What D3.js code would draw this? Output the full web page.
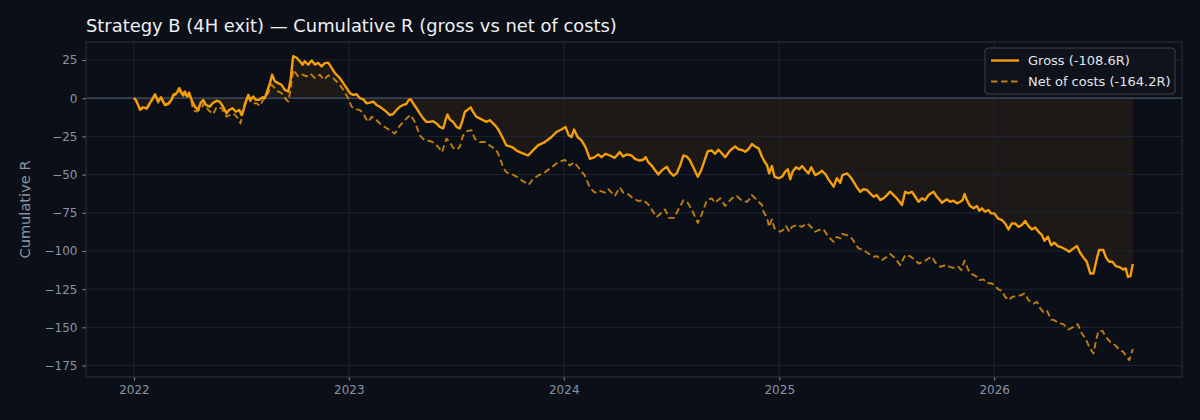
<!DOCTYPE html>
<html>
<head>
<meta charset="utf-8">
<script src="https://cdn.jsdelivr.net/npm/d3@7"></script>
<style>
  html, body { margin: 0; padding: 0; background: #0b0f17; }
  svg { display: block; font-family: "DejaVu Sans", sans-serif; }
</style>
</head>
<body>
<div id="chart"></div>
<script>
// time is in decimal years (2022.5 = middle of 2022)
const grossT = [2022.000,2022.009,2022.028,2022.043,2022.059,2022.074,2022.098,2022.113,2022.126,2022.144,2022.160,2022.175,2022.183,2022.199,2022.211,2022.227,2022.237,2022.248,2022.257,2022.268,
  2022.284,2022.299,2022.310,2022.322,2022.335,2022.353,2022.366,2022.385,2022.400,2022.415,2022.431,2022.443,2022.459,2022.474,2022.490,2022.501,2022.512,2022.524,2022.532,2022.543,
  2022.555,2022.567,2022.583,2022.599,2022.609,2022.620,2022.633,2022.643,2022.656,2022.671,2022.687,2022.702,2022.718,2022.729,2022.741,2022.757,2022.772,2022.785,2022.795,2022.811,
  2022.827,2022.842,2022.857,2022.873,2022.888,2022.904,2022.920,2022.935,2022.958,2022.974,2022.990,2023.005,2023.020,2023.036,2023.051,2023.067,2023.082,2023.098,2023.113,2023.129,
  2023.144,2023.160,2023.175,2023.191,2023.206,2023.222,2023.237,2023.253,2023.268,2023.279,2023.288,2023.299,2023.315,2023.330,2023.346,2023.361,2023.377,2023.392,2023.408,2023.423,
  2023.439,2023.450,2023.459,2023.470,2023.485,2023.501,2023.516,2023.527,2023.540,2023.555,2023.567,2023.578,2023.594,2023.609,2023.625,2023.640,2023.656,2023.671,2023.687,2023.702,
  2023.718,2023.733,2023.749,2023.764,2023.780,2023.795,2023.815,2023.834,2023.857,2023.880,2023.912,2023.943,2023.966,2023.989,2024.008,2024.023,2024.036,2024.048,2024.064,2024.082,
  2024.101,2024.121,2024.144,2024.160,2024.175,2024.194,2024.214,2024.237,2024.260,2024.276,2024.292,2024.315,2024.330,2024.353,2024.369,2024.380,2024.392,2024.408,2024.423,2024.439,
  2024.454,2024.478,2024.493,2024.509,2024.524,2024.540,2024.555,2024.571,2024.586,2024.601,2024.622,2024.637,2024.656,2024.668,2024.687,2024.702,2024.718,2024.733,2024.749,2024.772,
  2024.795,2024.811,2024.827,2024.842,2024.857,2024.873,2024.888,2024.904,2024.920,2024.932,2024.943,2024.953,2024.966,2024.978,2024.997,2025.013,2025.028,2025.040,2025.051,2025.062,
  2025.078,2025.093,2025.106,2025.121,2025.136,2025.149,2025.167,2025.183,2025.199,2025.214,2025.229,2025.253,2025.268,2025.284,2025.294,2025.315,2025.330,2025.346,2025.361,2025.377,
  2025.392,2025.408,2025.423,2025.439,2025.454,2025.470,2025.485,2025.501,2025.516,2025.532,2025.547,2025.571,2025.586,2025.601,2025.617,2025.633,2025.648,2025.664,2025.679,2025.694,
  2025.718,2025.733,2025.749,2025.757,2025.780,2025.795,2025.811,2025.827,2025.842,2025.853,2025.862,2025.873,2025.888,2025.904,2025.920,2025.930,2025.943,2025.958,2025.973,2025.986,
  2026.001,2026.017,2026.036,2026.051,2026.067,2026.082,2026.098,2026.113,2026.129,2026.144,2026.160,2026.175,2026.191,2026.206,2026.222,2026.234,2026.250,2026.265,2026.280,2026.296,
  2026.315,2026.333,2026.349,2026.369,2026.385,2026.400,2026.415,2026.431,2026.447,2026.462,2026.478,2026.488,2026.508,2026.520,2026.535,2026.550,2026.566,2026.586,2026.601,2026.612,
  2026.622,2026.634,2026.645];
const grossR = [0,-1.1,-7.3,-6,-6.6,-3.3,2.6,-2.2,0.7,-4.4,-3.3,-1.1,2.2,3.3,6.6,2.2,4.4,1.1,3.7,-1.1,
  -5.7,-7.7,-3.3,-1.1,-4.4,-5.6,-3.3,-1.6,-2.4,-5.6,-9.9,-7.7,-6.6,-8.9,-7.7,-11,-6.6,-1.1,2.2,-1.1,
  1.1,-1.1,-1.1,0.7,0,4.4,9.9,15.4,11,9.9,8.8,5.5,4.4,12.1,27.5,26.5,24.2,22,24.2,22,
  24.7,22,23.1,20.9,23,23.3,19.8,16.5,13.2,9.9,6.6,3.3,2.2,2.6,0,-0.7,-3.3,-2.9,-2.2,-4.4,
  -5.6,-7.3,-8.9,-11,-10.4,-7.7,-5.6,-4.4,-3.8,-1.1,-0.7,-3.3,-6.6,-9.9,-13.2,-15.5,-15.5,-15,-16.5,-18.8,
  -19.8,-14.4,-10.6,-13.9,-15.5,-18.8,-19.8,-15.5,-8.9,-7.3,-6,-8.9,-12.2,-13.2,-14.4,-15.5,-14.4,-16.5,-18.8,-22.1,
  -26.5,-30.9,-31.5,-32.4,-34.2,-35.3,-36.4,-37.5,-34.2,-30.9,-28.7,-25.4,-22.1,-20.5,-18.8,-24.3,-25.4,-20.5,-25.4,-27.6,
  -32,-39.7,-38.6,-36.8,-38.6,-36.4,-37.5,-39,-35.3,-38.2,-36.8,-37.5,-39.7,-40.8,-40.3,-38.6,-41.9,-44.1,-47,-50,
  -47.4,-44.8,-48.5,-50.7,-49.2,-44.1,-37.5,-38.2,-40.8,-45.2,-51.4,-47.4,-39.7,-34.7,-34.2,-36.4,-33.7,-36,-38.6,-34.2,
  -31.6,-33.4,-33.9,-35,-33.4,-30,-31.7,-32.8,-38.3,-41.6,-43.7,-49.2,-44.4,-51.4,-52.4,-51.4,-48.1,-46.5,-53.1,-48.1,
  -45.2,-46.5,-44.4,-47,-49.2,-45.2,-50.3,-49.2,-47.5,-49.6,-53.1,-57.9,-52.4,-55.3,-50.3,-49.2,-51.4,-54.7,-58.3,-61.2,
  -59.6,-60.1,-62.3,-64.5,-63.4,-66.7,-65.5,-63.4,-61.2,-63.4,-65.5,-69.9,-61.2,-62.3,-61.2,-64.5,-67.8,-65.5,-66.7,-63.4,
  -61.2,-64.5,-66.9,-68.4,-66.2,-67.8,-67.1,-68.8,-67.8,-66.7,-62.7,-66.7,-70.6,-72.1,-70.6,-73.7,-72.1,-74.3,-73.2,-75.4,
  -75.4,-78.7,-79.8,-82,-85.9,-82,-82,-84.2,-83,-80.4,-83.7,-85.9,-84.6,-87.4,-89.6,-93.3,-90.7,-96.2,-94.6,-96.8,
  -97.7,-99,-100.5,-98.3,-96.8,-101.2,-104.2,-107.1,-114.7,-114.7,-104.9,-99.4,-99.4,-104.2,-107.1,-107.1,-109.9,-110.8,-112.1,-111.4,
  -116.9,-116.5,-108.6];

const netT = [2022.000,2022.009,2022.028,2022.043,2022.059,2022.074,2022.098,2022.113,2022.126,2022.144,2022.160,2022.175,2022.183,2022.199,2022.211,2022.227,2022.237,2022.248,2022.257,2022.268,
  2022.276,2022.292,2022.315,2022.326,2022.346,2022.369,2022.385,2022.408,2022.431,2022.447,2022.462,2022.485,2022.496,2022.516,2022.529,2022.547,2022.571,2022.586,2022.601,2022.625,
  2022.640,2022.656,2022.671,2022.687,2022.707,2022.718,2022.729,2022.741,2022.764,2022.785,2022.803,2022.822,2022.842,2022.865,2022.884,2022.904,2022.927,2022.950,2022.958,2022.974,
  2022.997,2023.013,2023.036,2023.051,2023.067,2023.082,2023.090,2023.106,2023.121,2023.144,2023.167,2023.191,2023.214,2023.233,2023.253,2023.276,2023.288,2023.307,2023.330,2023.353,
  2023.377,2023.400,2023.423,2023.434,2023.454,2023.470,2023.485,2023.501,2023.516,2023.532,2023.552,2023.571,2023.586,2023.609,2023.633,2023.656,2023.671,2023.687,2023.702,2023.718,
  2023.733,2023.757,2023.780,2023.803,2023.837,2023.857,2023.880,2023.912,2023.943,2023.973,2024.005,2024.028,2024.048,2024.067,2024.098,2024.121,2024.144,2024.167,2024.191,2024.206,
  2024.222,2024.237,2024.260,2024.276,2024.299,2024.322,2024.346,2024.369,2024.392,2024.408,2024.431,2024.454,2024.470,2024.488,2024.513,2024.532,2024.555,2024.575,2024.594,2024.622,
  2024.640,2024.664,2024.687,2024.702,2024.726,2024.749,2024.780,2024.803,2024.827,2024.850,2024.865,2024.873,2024.896,2024.920,2024.927,2024.943,2024.953,2024.966,2024.978,2025.005,
  2025.020,2025.031,2025.047,2025.059,2025.082,2025.106,2025.129,2025.144,2025.167,2025.183,2025.206,2025.229,2025.253,2025.268,2025.284,2025.292,2025.315,2025.338,2025.353,2025.369,
  2025.392,2025.415,2025.439,2025.454,2025.478,2025.501,2025.516,2025.540,2025.563,2025.586,2025.609,2025.633,2025.648,2025.671,2025.694,2025.710,2025.726,2025.749,2025.772,2025.795,
  2025.819,2025.834,2025.847,2025.862,2025.880,2025.896,2025.915,2025.930,2025.950,2025.966,2025.989,2026.005,2026.020,2026.036,2026.051,2026.067,2026.085,2026.106,2026.126,2026.141,
  2026.160,2026.183,2026.199,2026.214,2026.229,2026.245,2026.265,2026.280,2026.299,2026.322,2026.346,2026.369,2026.389,2026.408,2026.426,2026.442,2026.462,2026.473,2026.485,2026.504,
  2026.520,2026.540,2026.563,2026.581,2026.601,2026.617,2026.629,2026.645];
const netR = [0,-1.5,-7.8,-6.5,-7.2,-4,2,-3,0,-5,-4,-2,1.5,2.5,5.5,1,3,0,2.5,-2.5,
  -7.7,-8.8,-6.6,-3.3,-7.7,-10.4,-5.6,-6.6,-12.1,-11,-9.9,-13.2,-16.5,-3.3,1.1,-3.3,-3.3,-5.1,-1.1,3.3,
  8.8,6.6,4.4,3.3,-0.7,-2.2,5.5,18.6,14.3,15.4,14.3,16,13.2,15.4,12.1,15,13.2,9.9,8.8,5.5,
  0,-5.6,-7.3,-7.7,-9.9,-13.9,-15.5,-12.2,-13.2,-16.5,-18.8,-21,-23.1,-18.8,-15.5,-12.2,-11,-15.5,-24.3,-27.6,
  -28,-29.4,-33.1,-35.3,-26.5,-28.7,-32.4,-33.7,-32,-24.3,-21.4,-21,-26.5,-28.7,-28.7,-31,-32.4,-34.2,-38.6,-45.2,
  -48.5,-49.6,-51.3,-53.6,-56.7,-52.9,-50.7,-48.5,-45.2,-41.9,-40.3,-44.1,-41.9,-45.2,-50.7,-58.5,-61.8,-60.6,-61.8,-59.5,
  -61.8,-64,-58.5,-61.8,-62.8,-65.5,-67.3,-66.8,-69.4,-72.8,-77.8,-75,-72.8,-78.3,-78.3,-72.8,-66.8,-68.4,-72.8,-81.6,
  -76.1,-66.8,-65.5,-68.4,-65.5,-70.5,-65.5,-64,-67.1,-67.8,-65.5,-63.4,-66.7,-69.9,-74.3,-78,-84.2,-79.3,-85.2,-87.4,
  -85.9,-83.7,-87.4,-84.2,-83,-84.2,-81.9,-83.7,-87.4,-86.3,-85.9,-90.7,-94,-90.7,-91.8,-88.9,-89.6,-91.8,-95,-98.3,
  -99.4,-101.6,-103.8,-103.4,-106,-103.8,-102,-104.9,-109.3,-102.7,-103.4,-106,-108.2,-107.1,-104.9,-103.8,-107.5,-110.4,-109.3,-110.4,
  -111.4,-110.4,-112.5,-106.4,-112.5,-115.2,-116.5,-119.1,-118.6,-120.9,-121.3,-123,-125.2,-126.1,-130,-132.2,-130,-129.6,-128.9,-127.8,
  -132.2,-134.4,-133.3,-137.6,-139.9,-138.8,-144.9,-145.3,-147.1,-147.9,-151.4,-149.7,-147.9,-154,-157.3,-162.8,-167.1,-159.5,-152.3,-152.3,
  -156.3,-159.5,-161.7,-164.5,-166.1,-169.4,-171.5,-164.2];

const yTicks = [25, 0, -25, -50, -75, -100, -125, -150, -175];
const xTicks = [2022, 2023, 2024, 2025, 2026];
const titleText = "Strategy B (4H exit) \u2014 Cumulative R (gross vs net of costs)";
const legendLabels = ["Gross (-108.6R)", "Net of costs (-164.2R)"];

function toDate(t) {
  const yr = Math.floor(t);
  const a = Date.UTC(yr, 0, 1), b = Date.UTC(yr + 1, 0, 1);
  return new Date(a + (t - yr) * (b - a));
}

const gross = grossT.map((t, i) => ({ date: toDate(t), r: grossR[i] }));
const net = netT.map((t, i) => ({ date: toDate(t), r: netR[i] }));

const width = 1200, height = 420;
const margin = { top: 42, right: 18, bottom: 43, left: 86 };
const innerW = width - margin.left - margin.right;
const innerH = height - margin.top - margin.bottom;

const orange = "#f59e0b";
const gridCol = "#1e2532";
const spineCol = "#2b313d";
const tickTextCol = "#8a93a6";

const svg = d3.select("#chart").append("svg")
  .attr("width", width).attr("height", height);

svg.append("rect").attr("width", width).attr("height", height).attr("fill", "#0b0f17");

const x = d3.scaleUtc()
  .domain([toDate(2021.777), toDate(2026.874)])
  .range([0, innerW]);
const y = d3.scaleLinear()
  .domain([-182.5, 36.8])
  .range([innerH, 0]);

const g = svg.append("g").attr("transform", `translate(${margin.left},${margin.top})`);

// shaded area between gross and zero
const area = d3.area()
  .x(d => x(d.date))
  .y0(y(0))
  .y1(d => y(d.r));
g.append("path").datum(gross)
  .attr("d", area)
  .attr("fill", orange).attr("fill-opacity", 0.075);

// grid (drawn over the fill, like the original)
g.append("g").selectAll("line").data(xTicks).join("line")
  .attr("x1", d => x(toDate(d))).attr("x2", d => x(toDate(d)))
  .attr("y1", 0).attr("y2", innerH)
  .attr("stroke", gridCol).attr("stroke-width", 1);
g.append("g").selectAll("line").data(yTicks).join("line")
  .attr("x1", 0).attr("x2", innerW)
  .attr("y1", d => y(d)).attr("y2", d => y(d))
  .attr("stroke", gridCol).attr("stroke-width", 1);

// zero line
g.append("line")
  .attr("x1", 0).attr("x2", innerW)
  .attr("y1", y(0)).attr("y2", y(0))
  .attr("stroke", "#435064").attr("stroke-width", 1.3);

const line = d3.line().x(d => x(d.date)).y(d => y(d.r));

g.append("path").datum(net)
  .attr("d", line)
  .attr("fill", "none")
  .attr("stroke", orange).attr("stroke-opacity", 0.78)
  .attr("stroke-width", 1.9)
  .attr("stroke-dasharray", "6.5,3.5")
  .attr("stroke-linejoin", "round");

g.append("path").datum(gross)
  .attr("d", line)
  .attr("fill", "none")
  .attr("stroke", orange)
  .attr("stroke-width", 2.4)
  .attr("stroke-linejoin", "round");

// axes
const fmtY = d => String(d).replace("-", "\u2212");
const xAxis = d3.axisBottom(x)
  .tickValues(xTicks.map(toDate))
  .tickFormat(d3.utcFormat("%Y"))
  .tickSize(3.5).tickPadding(5);
const yAxis = d3.axisLeft(y)
  .tickValues(yTicks)
  .tickFormat(fmtY)
  .tickSize(3.5).tickPadding(5);

const gx = g.append("g").attr("transform", `translate(0,${innerH})`).call(xAxis);
const gy = g.append("g").call(yAxis);
[gx, gy].forEach(a => {
  a.select(".domain").remove();
  a.selectAll(".tick line").attr("stroke", tickTextCol);
  a.selectAll(".tick text").attr("fill", tickTextCol)
    .style("font-family", "DejaVu Sans").style("font-size", "12px");
});

// spines
g.append("rect")
  .attr("x", 0).attr("y", 0).attr("width", innerW).attr("height", innerH)
  .attr("fill", "none").attr("stroke", spineCol).attr("stroke-width", 1);

// y label
svg.append("text")
  .attr("transform", `translate(30,${margin.top + innerH / 2}) rotate(-90)`)
  .attr("text-anchor", "middle")
  .attr("fill", tickTextCol)
  .style("font-size", "14.6px")
  .text("Cumulative R");

// title
svg.append("text")
  .attr("x", margin.left).attr("y", 32)
  .attr("fill", "#eef0f4")
  .style("font-size", "17.9px")
  .text(titleText);

// legend
const lg = g.append("g").attr("transform", `translate(${innerW - 197},6)`);
lg.append("rect")
  .attr("width", 190).attr("height", 46).attr("rx", 3)
  .attr("fill", "#0e131c").attr("fill-opacity", 0.9)
  .attr("stroke", "#3a404c").attr("stroke-width", 1);
legendLabels.forEach((lab, i) => {
  const ly = 12.5 + i * 21;
  lg.append("line")
    .attr("x1", 6).attr("x2", 34).attr("y1", ly).attr("y2", ly)
    .attr("stroke", orange)
    .attr("stroke-opacity", i === 0 ? 1 : 0.78)
    .attr("stroke-width", i === 0 ? 2.4 : 1.9)
    .attr("stroke-dasharray", i === 0 ? null : "6.5,3.5");
  lg.append("text")
    .attr("x", 43).attr("y", ly + 4.5)
    .attr("fill", "#e2e5eb")
    .style("font-size", "13px")
    .text(lab);
});
</script>
</body>
</html>
